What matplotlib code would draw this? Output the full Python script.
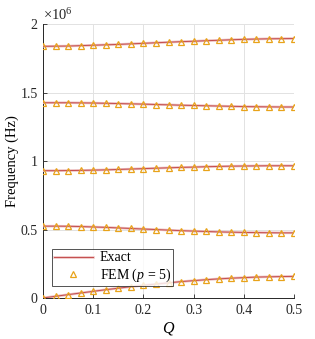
import matplotlib
matplotlib.use("Agg")
import matplotlib.pyplot as plt
import matplotlib.patheffects as pe
import numpy as np

plt.rcParams["font.family"] = ["Liberation Serif", "DejaVu Serif"]
plt.rcParams["mathtext.fontset"] = "custom"
plt.rcParams["mathtext.rm"] = "Liberation Serif"
plt.rcParams["mathtext.it"] = "Liberation Serif:italic"

# Q sampled every 0.025 (21 points)
q = np.linspace(0.0, 0.5, 21)

# frequencies in units of 1e6 Hz
mode1 = [0.003, 0.015, 0.027, 0.039, 0.051, 0.063, 0.074, 0.085, 0.095, 0.104,
         0.113, 0.122, 0.129, 0.136, 0.142, 0.147, 0.151, 0.155, 0.157, 0.159, 0.160]
mode2 = [0.527, 0.527, 0.526, 0.524, 0.521, 0.518, 0.514, 0.510, 0.506, 0.502,
         0.498, 0.494, 0.491, 0.488, 0.485, 0.483, 0.481, 0.480, 0.479, 0.478, 0.478]
mode3 = [0.932, 0.932, 0.933, 0.934, 0.936, 0.938, 0.941, 0.944, 0.947, 0.950,
         0.953, 0.956, 0.958, 0.961, 0.963, 0.965, 0.966, 0.967, 0.968, 0.968, 0.968]
mode4 = [1.428, 1.428, 1.428, 1.427, 1.426, 1.424, 1.422, 1.420, 1.418, 1.415,
         1.413, 1.410, 1.408, 1.406, 1.404, 1.402, 1.400, 1.399, 1.398, 1.397, 1.397]
mode5 = [1.840, 1.841, 1.842, 1.845, 1.848, 1.851, 1.854, 1.858, 1.862, 1.866,
         1.870, 1.874, 1.877, 1.881, 1.884, 1.888, 1.891, 1.893, 1.895, 1.896, 1.897]
modes = [mode1, mode2, mode3, mode4, mode5]

xticks = [0, 0.1, 0.2, 0.3, 0.4, 0.5]
xticklabels = ["0", "0.1", "0.2", "0.3", "0.4", "0.5"]
yticks = [0, 0.5, 1, 1.5, 2]
yticklabels = ["0", "0.5", "1", "1.5", "2"]

line_col = "#c44e4e"
halo_col = "#ecbcbc"
tri_col = "#e8a31a"

fig = plt.figure(figsize=(3.15, 3.39), dpi=100)
ax = fig.add_axes([0.137, 0.12, 0.796, 0.808])

for i, m in enumerate(modes):
    ax.plot(q, m, color=line_col, lw=0.7, zorder=3,
            path_effects=[pe.Stroke(linewidth=1.8, foreground=halo_col), pe.Normal()],
            label="Exact" if i == 0 else None)
    ax.plot(q, m, ls="none", marker="^", ms=4.0, mfc="none", mec=tri_col,
            mew=0.9, zorder=4, label="FEM ($p$ = 5)" if i == 0 else None)

ax.set_xlim(0, 0.5)
ax.set_ylim(0, 2)
ax.set_xticks(xticks)
ax.set_xticklabels(xticklabels)
ax.set_yticks(yticks)
ax.set_yticklabels(yticklabels)
ax.tick_params(direction="in", length=3, width=0.6, labelsize=10, colors="#262626",
               pad=4)
ax.grid(True, color="#e2e2e2", lw=0.7)
ax.set_axisbelow(True)
for s in ["top", "right"]:
    ax.spines[s].set_visible(False)
for s in ["left", "bottom"]:
    ax.spines[s].set_color("#262626")
    ax.spines[s].set_linewidth(0.7)

ax.set_xlabel("$Q$", fontsize=11.5, labelpad=2)
ax.set_ylabel("Frequency (Hz)", fontsize=10.5)
ax.yaxis.set_label_coords(-0.095, 0.5)
ax.text(0.0, 1.005, r"$\times 10^{6}$", transform=ax.transAxes, fontsize=10.5,
        ha="left", va="bottom", color="#262626")

leg = ax.legend(loc="lower left", bbox_to_anchor=(0.035, 0.045), fontsize=10,
                frameon=True, fancybox=False, edgecolor="#262626",
                handlelength=2.8, borderpad=0.15, labelspacing=0.15,
                handletextpad=0.5, borderaxespad=0)
leg.get_frame().set_linewidth(0.7)
leg.set_zorder(10)

fig.savefig("out.png", dpi=100)
